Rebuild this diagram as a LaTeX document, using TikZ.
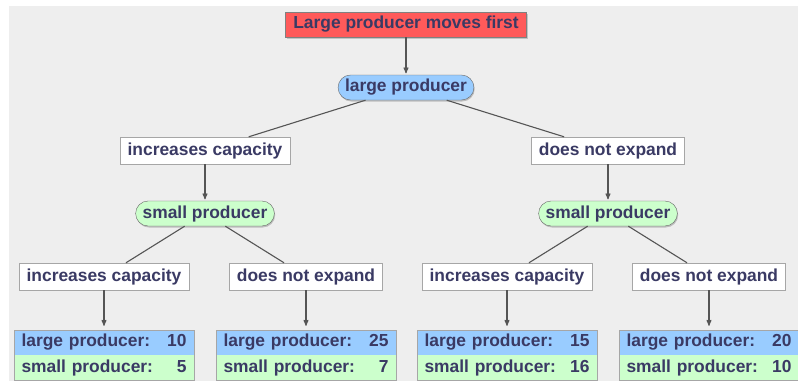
\documentclass[tikz,border=0pt]{standalone}
\usepackage{fontspec}
\setmainfont{Liberation Sans}
\usepackage{tikz}
\usetikzlibrary{positioning, arrows, shadows}
\definecolor{bgcol}{HTML}{EEEEEE}
\definecolor{inkcol}{HTML}{3A3A64}
\definecolor{redbox}{HTML}{FF5A5A}
\definecolor{bluebox}{HTML}{99CCFF}
\definecolor{greenbox}{HTML}{CCFFCC}
\definecolor{edgecol}{HTML}{555555}
\tikzset{
>=stealth', % arrow heads
node distance=63pt, % distance between the levels of the tree
every node/.style={font=\fontsize{17.4}{20}\selectfont\bfseries, text=inkcol},
title/.style={draw=gray, fill=redbox, minimum width=241pt, minimum height=25pt, inner sep=0pt,
  drop shadow={shadow xshift=1pt, shadow yshift=-1.5pt, fill=gray!80}},
player/.style={draw=gray!80!black, rounded corners=12.5pt, minimum height=25pt, inner xsep=7pt, inner ysep=0pt,
  drop shadow={shadow xshift=0.8pt, shadow yshift=-1.5pt, fill=gray!90}},
choice/.style={draw=gray!70, fill=white, minimum height=27pt, inner xsep=7.5pt, inner ysep=0pt},
payrow/.style={text width=165pt, inner xsep=7pt, inner ysep=0pt, minimum height=25pt},
edge/.style={draw=edgecol, line width=1.1pt},
move/.style={edge, ->, shorten >=1.5pt},
}
\begin{document}
\begin{tikzpicture}[x=1pt, y=1pt]
    \useasboundingbox (0,0) rectangle (798,-381);
    \fill[bgcol] (9,-6) rectangle (798,-381);

    % first mover and the two options of the large producer
    \node[title] (first) at (406,-24.5) {Large producer moves first};
    \node[player, fill=bluebox, below of=first] (lp) {large producer};
    \node[choice, below of=lp, xshift=-201pt] (lpup) {increases capacity};
    \node[choice, below of=lp, xshift=202pt] (lpkeep) {does not expand};

    % the small producer answers
    \node[player, fill=greenbox, below of=lpup] (spa) {small producer};
    \node[player, fill=greenbox, below of=lpkeep] (spb) {small producer};
    \node[choice, below of=spa, xshift=-101pt] (aup) {increases capacity};
    \node[choice, below of=spa, xshift=101pt] (akeep) {does not expand};
    \node[choice, below of=spb, xshift=-101pt] (bup) {increases capacity};
    \node[choice, below of=spb, xshift=101pt] (bkeep) {does not expand};

    % payoffs
    \foreach \leaf/\big/\small in {aup/10/5, akeep/25/7, bup/15/16, bkeep/20/10}{
        \node[payrow, fill=bluebox, below of=\leaf, node distance=66pt] (\leaf-l) {large producer:\hfill\big};
        \node[payrow, fill=greenbox, below=0pt of \leaf-l] (\leaf-s) {small producer:\hfill\small};
        \draw[gray!70] (\leaf-l.north west) rectangle (\leaf-s.south east);
        \draw[move, shorten >=4pt] (\leaf) -- (\leaf-l);
    }

    \draw[move] (first) -- (lp);
    \draw[edge] (lp) -- (lpup);
    \draw[edge] (lp) -- (lpkeep);
    \draw[move] (lpup) -- (spa);
    \draw[move] (lpkeep) -- (spb);
    \draw[edge] (spa) -- (aup);
    \draw[edge] (spa) -- (akeep);
    \draw[edge] (spb) -- (bup);
    \draw[edge] (spb) -- (bkeep);
\end{tikzpicture}
\end{document}
